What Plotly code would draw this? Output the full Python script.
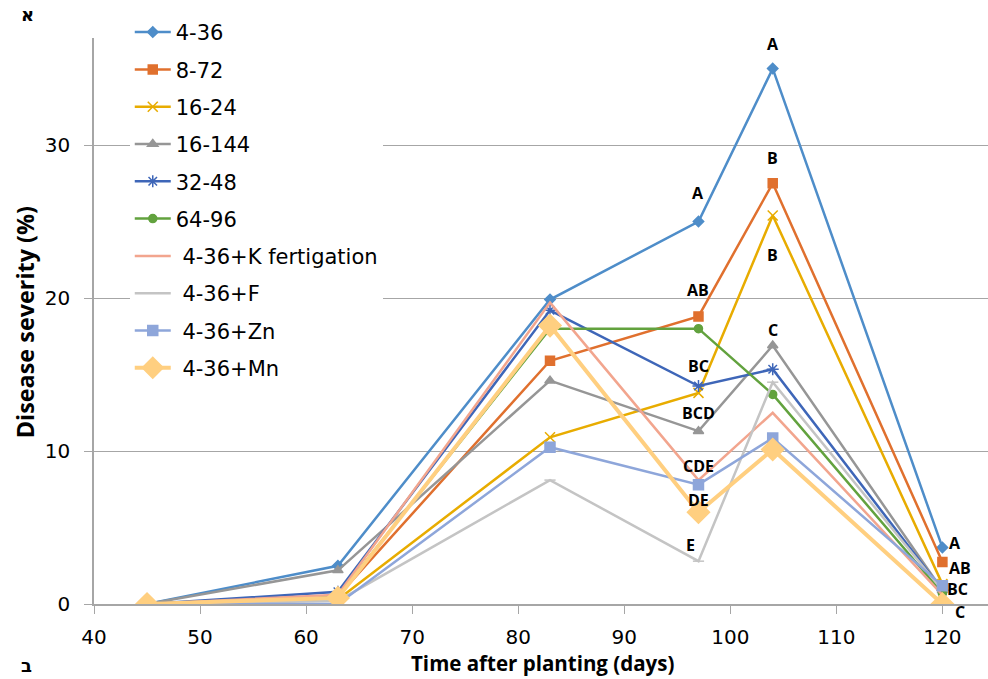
import plotly.graph_objects as go

days = [45, 63, 83, 97, 104, 120]

series_names = ["4-36", "8-72", "16-24", "16-144", "32-48", "64-96",
                " 4-36+K fertigation", " 4-36+F", " 4-36+Zn", " 4-36+Mn"]

s_4_36 = [0, 2.5, 19.9, 25.0, 35.0, 3.7]
s_8_72 = [0, 0.5, 15.9, 18.8, 27.5, 2.75]
s_16_24 = [0, 0.3, 10.9, 13.8, 25.4, 1.3]
s_16_144 = [0, 2.2, 14.6, 11.3, 16.9, 0.9]
s_32_48 = [0, 0.8, 19.2, 14.25, 15.35, 0.9]
s_64_96 = [0, 0.5, 18.0, 18.0, 13.7, 0.7]
s_k_fert = [0, 0.6, 19.7, 8.1, 12.5, 0.6]
s_f = [0, 0.2, 8.1, 2.8, 14.5, 0.9]
s_zn = [0, 0.0, 10.25, 7.8, 10.85, 1.2]
s_mn = [0, 0.4, 18.2, 6.0, 10.1, 0.0]

values = [s_4_36, s_8_72, s_16_24, s_16_144, s_32_48, s_64_96,
          s_k_fert, s_f, s_zn, s_mn]

colors = ["#4E8DC9", "#E0702E", "#E8AC00", "#969696", "#3E66B8", "#62A23E",
          "#F2A58E", "#C4C4C4", "#8EA6DA", "#FFCF80"]
symbols = ["diamond", "square", "x-thin-open", "triangle-up", "asterisk-open",
           "circle", None, "line-ew-open", "square", "diamond"]
msizes = [8, 9, 10, 9, 10, 8, 0, 8, 10, 17]
lwidths = [2.5, 2.5, 2.5, 2.5, 2.5, 2.5, 2.5, 2.5, 2.5, 4]

# significance letters: (x, y, text)
letter_x = [104, 104, 104, 104, 97, 97, 97, 97, 97, 97, 96.2, 121.2, 121.7, 121.4, 121.7]
letter_y = [36.6, 29.15, 22.8, 17.9, 26.9, 20.5, 15.55, 12.5, 9.0, 6.8, 3.85, 4.0, 2.35, 0.95, -0.5]
letter_t = ["A", "B", "B", "C", "A", "AB", "BC", "BCD", "CDE", "DE", "E", "A", "AB", "BC", "C"]

x_ticks = [40, 50, 60, 70, 80, 90, 100, 110, 120]
y_ticks = [0, 10, 20, 30]

FONT = "Open Sans"
TFONT = "DejaVu Sans"
Y_MIN, Y_MAX = 0, 37
PX_PER_UNIT = 566 / (Y_MAX - Y_MIN)

fig = go.Figure()
for i, (name, vals) in enumerate(zip(series_names, values)):
    sym = symbols[i]
    mode = "lines+markers" if sym else "lines"
    marker = dict(color=colors[i], size=msizes[i], symbol=sym,
                  line=dict(color=colors[i], width=1.5)) if sym else None
    fig.add_trace(go.Scatter(
        x=days, y=vals, name=name, mode=mode,
        line=dict(color=colors[i], width=lwidths[i]),
        marker=marker, legendgroup=f"g{i}",
    ))

annotations = []
for x, y, t in zip(letter_x, letter_y, letter_t):
    # keep anchor inside the axis range, shift text in pixels if it lies below it
    y_anchor = max(y, Y_MIN)
    shift = (y - y_anchor) * PX_PER_UNIT
    annotations.append(dict(x=x, y=y_anchor, yshift=shift, text=f"<b>{t}</b>",
                            showarrow=False, xref="x", yref="y",
                            xanchor="center", yanchor="middle",
                            font=dict(family=FONT, size=16, color="#000000")))

annotations += [
    dict(x=0.502, y=-0.104, xref="paper", yref="paper", showarrow=False,
         xanchor="center", yanchor="middle",
         text="<b>Time after planting (days)</b>",
         font=dict(family=FONT, size=20.5, color="#000000")),
    dict(x=-0.077, y=0.498, xref="paper", yref="paper", showarrow=False,
         xanchor="center", yanchor="middle",
         text="<b>Disease severity (%)</b>", textangle=-90,
         font=dict(family=FONT, size=23.4, color="#000000")),
    dict(x=-0.074, y=1.042, xref="paper", yref="paper", showarrow=False,
         xanchor="center", yanchor="middle",
         text="<b>א</b>", font=dict(family=TFONT, size=18, color="#000000")),
    dict(x=-0.076, y=-0.108, xref="paper", yref="paper", showarrow=False,
         xanchor="center", yanchor="middle",
         text="<b>ב</b>", font=dict(family=TFONT, size=18, color="#000000")),
]

fig.update_layout(
    width=988, height=679,
    margin=dict(l=94, r=0, t=38, b=75),
    paper_bgcolor="white", plot_bgcolor="white",
    font=dict(family=FONT, color="#000000"),
    annotations=annotations,
    showlegend=True,
    legend=dict(x=0.04, y=1.046, xanchor="left", yanchor="top",
                bgcolor="white", font=dict(family=TFONT, size=21, color="#000000"),
                tracegroupgap=7, traceorder="grouped", itemwidth=36,
                maxheight=660),
    xaxis=dict(range=[40, 124.3], tickvals=x_ticks, ticks="outside", ticklen=8,
               tickcolor="#A6A6A6", showline=True, linecolor="#A6A6A6", linewidth=1.5,
               showgrid=False, zeroline=False, ticklabelstandoff=6,
               tickfont=dict(family=TFONT, size=20, color="#000000")),
    yaxis=dict(range=[Y_MIN, Y_MAX], tickvals=y_ticks, ticks="outside", ticklen=8,
               tickcolor="#A6A6A6", showline=True, linecolor="#A6A6A6", linewidth=1.5,
               showgrid=True, gridcolor="#A6A6A6", gridwidth=1.2, zeroline=False,
               ticklabelstandoff=10,
               tickfont=dict(family=TFONT, size=20, color="#000000")),
)

fig.write_html("out.html")
